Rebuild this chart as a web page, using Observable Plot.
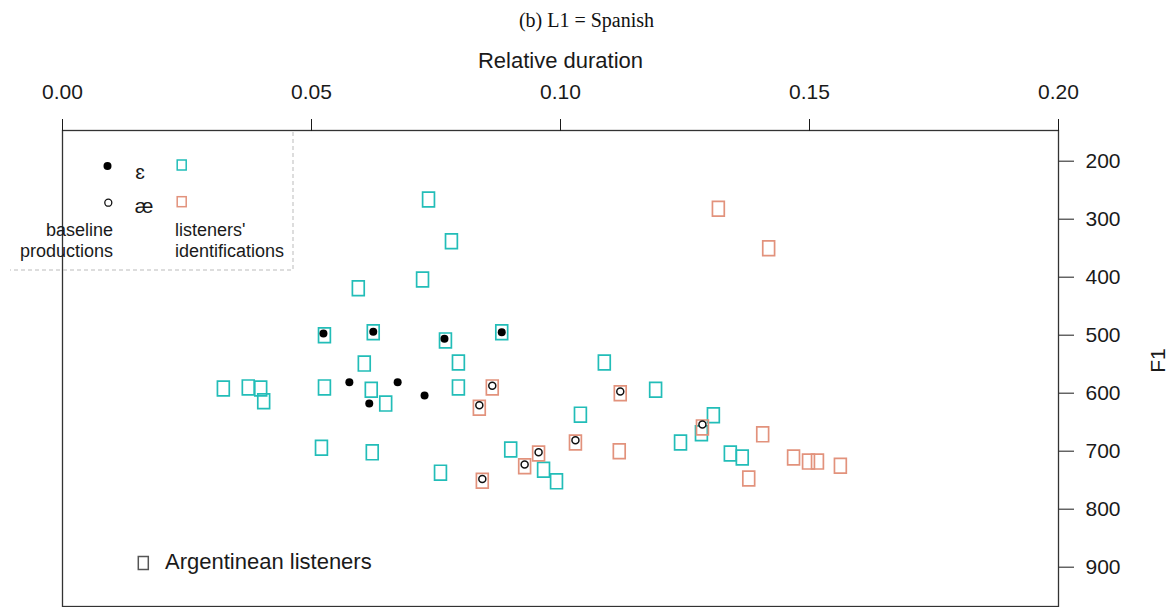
<!DOCTYPE html>
<html>
<head>
<meta charset="utf-8">
<script src="https://cdn.jsdelivr.net/npm/d3@7"></script>
<script src="https://cdn.jsdelivr.net/npm/@observablehq/plot@0.6"></script>
<style>
  body { margin: 0; background: #fff; }
  #title {
    height: 40px; line-height: 40px; text-align: center;
    font-family: "Liberation Serif", "Times New Roman", serif;
    font-size: 20px; color: #111;
  }
</style>
</head>
<body>
<div id="title">(b) L1 = Spanish</div>
<div id="chart"></div>
<script>
// Baseline productions (speaker tokens)
const baseEpsDur = [0.0524, 0.0624, 0.0767, 0.0882, 0.0576, 0.0673, 0.0616, 0.0727];
const baseEpsF1  = [497, 494, 506, 495, 581, 581, 618, 604];
const baseAeDur  = [0.0863, 0.0837, 0.1120, 0.1285, 0.1030, 0.0956, 0.0928, 0.0843];
const baseAeF1   = [587, 621, 597, 654, 681, 702, 723, 748];

// Listeners' identifications (Argentinean listeners)
const idEpsDur = [0.0735, 0.0781, 0.0723, 0.0594, 0.0526, 0.0624, 0.0769, 0.0882, 0.0606, 0.0795,
                  0.0323, 0.0373, 0.0398, 0.0404, 0.0526, 0.0620, 0.0649, 0.0795, 0.1088, 0.1191,
                  0.1040, 0.1307, 0.1283, 0.1241, 0.0900, 0.1341, 0.1365, 0.0966, 0.0992, 0.0520,
                  0.0622, 0.0759];
const idEpsF1  = [266, 338, 404, 419, 500, 495, 509, 495, 549, 547,
                  592, 590, 592, 614, 590, 594, 618, 590, 547, 594,
                  637, 638, 669, 685, 697, 704, 711, 732, 752, 694,
                  702, 737];
const idAeDur  = [0.1317, 0.1418, 0.0863, 0.0837, 0.1120, 0.1285, 0.1406, 0.1030, 0.1118, 0.0956,
                  0.1468, 0.1498, 0.1516, 0.1562, 0.1378, 0.0928, 0.0843];
const idAeF1   = [282, 350, 590, 625, 600, 659, 671, 685, 700, 704,
                  711, 718, 718, 725, 747, 726, 751];

// Axis ticks
const xTicks = [0, 0.05, 0.10, 0.15, 0.20];
const yTicks = [200, 300, 400, 500, 600, 700, 800, 900];

const toRows = (dur, f1) => dur.map((d, i) => ({dur: d, f1: f1[i]}));
const baseEps = toRows(baseEpsDur, baseEpsF1);
const baseAe  = toRows(baseAeDur, baseAeF1);
const idEps   = toRows(idEpsDur, idEpsF1);
const idAe    = toRows(idAeDur, idAeF1);

const teal = "#22bdb8";
const salmon = "#e2927c";

// Slightly tall open square used for listener responses
const tallSquare = {
  draw(ctx, size) {
    const r = Math.sqrt(size / Math.PI);
    const w = r * 0.8, h = r;
    ctx.moveTo(-w, -h); ctx.lineTo(w, -h); ctx.lineTo(w, h); ctx.lineTo(-w, h); ctx.closePath();
  }
};

const chart = Plot.plot({
  width: 1173,
  height: 567,
  marginLeft: 62,
  marginRight: 115,
  marginTop: 90,
  marginBottom: 1,
  style: {fontFamily: "'Liberation Sans', Arial, sans-serif", fontSize: "21px", color: "#1a1a1a", background: "#fff"},
  x: {domain: [0, 0.2]},
  y: {domain: [147.1, 967.8], reverse: true},
  marks: [
    Plot.frame({stroke: "#333", strokeWidth: 1.3}),
    Plot.axisX(xTicks, {anchor: "top", tickSize: 12, tickPadding: 20, tickFormat: d3.format(".2f"), label: null, fontSize: 21}),
    Plot.axisY(yTicks, {anchor: "right", tickSize: 15, tickPadding: 12, label: null, fontSize: 21}),
    Plot.text(["Relative duration"], {frameAnchor: "top", dy: -70, textAnchor: "middle", lineAnchor: "middle", fontSize: 22, fill: "#1a1a1a"}),
    Plot.text(["F1"], {frameAnchor: "right", dx: 100, dy: -8, rotate: -90, textAnchor: "middle", lineAnchor: "middle", fontSize: 21, fill: "#1a1a1a"}),
    Plot.dot(idEps, {x: "dur", y: "f1", symbol: tallSquare, r: 7.4, stroke: teal, strokeWidth: 1.7}),
    Plot.dot(idAe, {x: "dur", y: "f1", symbol: tallSquare, r: 7.4, stroke: salmon, strokeWidth: 1.7}),
    Plot.dot(baseAe, {x: "dur", y: "f1", r: 3.5, stroke: "#111", strokeWidth: 1.5, fill: "#fff"}),
    Plot.dot(baseEps, {x: "dur", y: "f1", r: 4, fill: "#000", stroke: "none"})
  ]
});

document.getElementById("chart").appendChild(chart);

// Legend drawn on top of the plot area
const svg = d3.select(chart);
const lg = svg.append("g")
  .attr("font-family", "'Liberation Sans', Arial, sans-serif")
  .attr("text-anchor", "start")
  .attr("fill", "#1a1a1a");

const sq = (g, cx, cy, w, h, color) =>
  g.append("rect").attr("x", cx - w / 2).attr("y", cy - h / 2).attr("width", w).attr("height", h)
   .attr("fill", "none").attr("stroke", color).attr("stroke-width", 1.5);

// dashed legend box edges
lg.append("path").attr("d", "M293,92V230H10")
  .attr("fill", "none").attr("stroke", "#bbb").attr("stroke-width", 1).attr("stroke-dasharray", "4,3");

lg.append("circle").attr("cx", 107.5).attr("cy", 126).attr("r", 4).attr("fill", "#000");
lg.append("circle").attr("cx", 108.3).attr("cy", 162.7).attr("r", 3.5).attr("fill", "#fff").attr("stroke", "#111").attr("stroke-width", 1.3);
lg.append("text").attr("x", 140).attr("y", 132.5).attr("dy", "0.32em").attr("text-anchor", "middle").attr("font-size", 21).text("ɛ");
lg.append("text").attr("x", 144).attr("y", 166.5).attr("dy", "0.32em").attr("text-anchor", "middle").attr("font-size", 21).text("æ");
sq(lg, 181.7, 125, 9, 10, teal);
sq(lg, 181.7, 161.7, 9, 10, salmon);

lg.append("text").attr("x", 113).attr("y", 190).attr("dy", "0.32em").attr("text-anchor", "end").attr("font-size", 18).text("baseline");
lg.append("text").attr("x", 113).attr("y", 211.7).attr("dy", "0.32em").attr("text-anchor", "end").attr("font-size", 18).text("productions");
lg.append("text").attr("x", 175).attr("y", 190).attr("dy", "0.32em").attr("text-anchor", "start").attr("font-size", 18).text("listeners'");
lg.append("text").attr("x", 175).attr("y", 211.7).attr("dy", "0.32em").attr("text-anchor", "start").attr("font-size", 18).text("identifications");

sq(lg, 143.3, 523, 10, 13, "#555");
lg.append("text").attr("x", 165).attr("y", 521.7).attr("dy", "0.32em").attr("text-anchor", "start").attr("font-size", 22).text("Argentinean listeners");
</script>
</body>
</html>
